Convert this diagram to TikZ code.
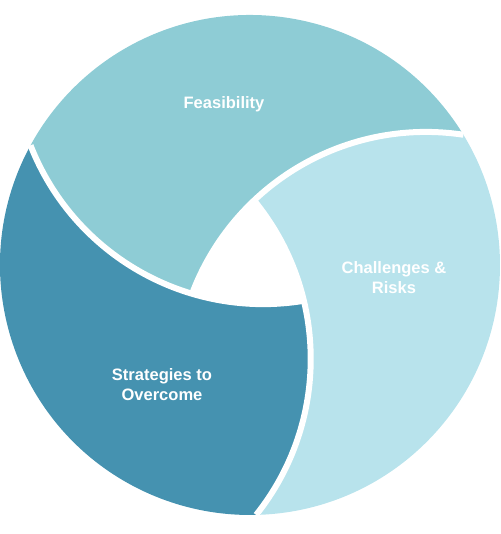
\documentclass[tikz,border=0pt]{standalone}
\usepackage{fontspec}
\setmainfont{Liberation Sans}
\usepackage{xcolor}
\usepackage{tikz}
\definecolor{feasteal}{HTML}{8ECCD5}
\definecolor{risklight}{HTML}{B8E3EC}
\definecolor{strategyblue}{HTML}{4592B0}

\begin{document}
\begin{tikzpicture}[
    seglabel/.style={text=white,align=center,
      font=\bfseries\fontsize{9.4}{11.4}\selectfont},
    gapline/.style={draw=white,line width=0.12cm}]
  \useasboundingbox (0,0) rectangle (10.02,10.68);
  \begin{scope}[shift={(5,5.38)}]
    % three swirl segments, each one turned by 120 degrees
    \foreach \rot/\col in {0/feasteal,-120/risklight,120/strategyblue}
      \fill[\col,rotate=\rot] (31.4:5)
        arc[start angle=31.4,end angle=151.4,radius=5]
        arc[start angle=201.4,end angle=253.4,radius=5]
        arc[start angle=159.4,end angle=81.4,radius=5] -- cycle;
    % white gaps between them
    \foreach \rot in {0,120,240}
      \draw[gapline,rotate=\rot] (31.4:5)
        arc[start angle=81.4,end angle=159.4,radius=5];
  \end{scope}
  \node[seglabel] (feas) at (4.48,8.6) {Feasibility};
  \node[seglabel] (risks) at (7.88,5.12) {Challenges \&\\Risks};
  \node[seglabel] (strat) at (3.24,2.98) {Strategies to\\Overcome};
\end{tikzpicture}
\end{document}
